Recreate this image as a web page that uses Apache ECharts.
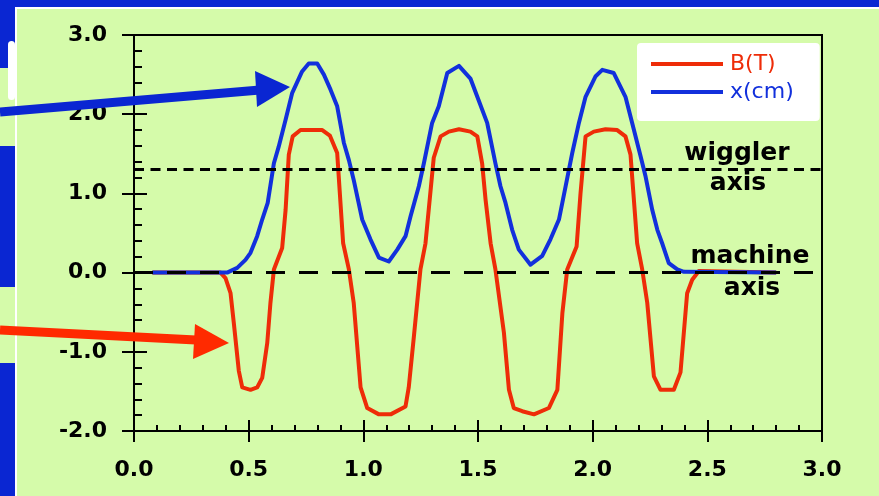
<!DOCTYPE html>
<html lang="en">
  <head>
    <meta charset="UTF-8" />
    <title>Wiggler orbit</title>
    <script src="https://cdn.jsdelivr.net/npm/echarts@6.0.0/dist/echarts.min.js"></script>
    <style>
      body { margin: 0; }
    </style>
  </head>
  <body>
    <div id="main" style="width: 879px; height: 496px"></div>
    <script type="text/javascript">
      // field B(T)
      let bPos = [0.08, 0.377, 0.399, 0.421, 0.435, 0.457, 0.472, 0.508, 0.537, 0.559,
        0.581, 0.595, 0.61, 0.646, 0.661, 0.675, 0.692, 0.726, 0.821, 0.854,
        0.886, 0.912, 0.937, 0.958, 0.988, 1.017, 1.068, 1.119, 1.184, 1.198,
        1.22, 1.249, 1.271, 1.307, 1.337, 1.373, 1.417, 1.467, 1.497, 1.518,
        1.533, 1.555, 1.576, 1.613, 1.635, 1.656, 1.693, 1.744, 1.809, 1.846,
        1.868, 1.889, 1.93, 1.947, 1.969, 2.005, 2.056, 2.107, 2.143, 2.165,
        2.194, 2.216, 2.238, 2.267, 2.296, 2.354, 2.383, 2.412, 2.434, 2.463, 2.8]
      let bField = [0, 0, -0.07, -0.26, -0.63, -1.24, -1.45, -1.48, -1.45, -1.33,
        -0.89, -0.38, 0.04, 0.31, 0.79, 1.49, 1.72, 1.8, 1.8, 1.73,
        1.51, 0.37, 0.04, -0.38, -1.45, -1.71, -1.79, -1.79, -1.69, -1.45,
        -0.82, 0.04, 0.37, 1.45, 1.72, 1.78, 1.81, 1.78, 1.72, 1.38,
        0.92, 0.37, 0.04, -0.76, -1.48, -1.71, -1.75, -1.79, -1.71, -1.48,
        -0.51, 0.04, 0.33, 1.0, 1.72, 1.78, 1.81, 1.8, 1.72, 1.49,
        0.37, 0.04, -0.38, -1.31, -1.48, -1.48, -1.26, -0.26, -0.09, 0.02, 0]

      // orbit x(cm)
      let xPos = [0.08, 0.406, 0.45, 0.486, 0.508, 0.537, 0.559, 0.583, 0.61, 0.631,
        0.661, 0.69, 0.733, 0.762, 0.799, 0.828, 0.857, 0.886, 0.915, 0.937,
        0.958, 0.995, 1.031, 1.068, 1.111, 1.148, 1.184, 1.206, 1.242, 1.264,
        1.3, 1.329, 1.366, 1.417, 1.467, 1.497, 1.54, 1.576, 1.598, 1.62,
        1.649, 1.678, 1.729, 1.78, 1.816, 1.853, 1.882, 1.911, 1.94, 1.969,
        2.013, 2.042, 2.092, 2.143, 2.18, 2.209, 2.231, 2.26, 2.282, 2.303,
        2.332, 2.369, 2.398, 2.8]
      let xOrbit = [0, 0, 0.06, 0.16, 0.25, 0.46, 0.67, 0.88, 1.38, 1.59,
        1.93, 2.27, 2.54, 2.64, 2.64, 2.5, 2.31, 2.1, 1.64, 1.42,
        1.17, 0.67, 0.42, 0.19, 0.14, 0.29, 0.46, 0.71, 1.09, 1.38,
        1.89, 2.1, 2.52, 2.61, 2.45, 2.22, 1.89, 1.38, 1.09, 0.88,
        0.54, 0.29, 0.1, 0.21, 0.42, 0.67, 1.09, 1.51, 1.89, 2.22,
        2.48, 2.56, 2.52, 2.22, 1.8, 1.47, 1.21, 0.79, 0.54, 0.37,
        0.12, 0.04, 0.01, 0]

      let wigglerAxis = 1.3
      let machineAxis = 0

      const RED = "#ee2c08"
      const BLUE = "#1230dc"
      const FRAME_BLUE = "#0a26d2"
      const GREEN = "#d5fbaa"
      const LABEL_FONT = "DejaVu Sans"

      function zip(a, b) {
        return a.map((v, i) => [v, b[i]])
      }

      let fmt = (v) => v.toFixed(1)

      let options = {
        backgroundColor: GREEN,
        animation: false,
        grid: {
          left: 134, right: 57, top: 35, bottom: 65,
          show: true, borderColor: "#000", borderWidth: 2,
          backgroundColor: "transparent",
        },
        legend: {
          left: 637, top: 43,
          orient: "vertical",
          backgroundColor: "#fff",
          borderRadius: 4,
          padding: [10, 26, 18, 14],
          itemGap: 6,
          itemWidth: 72,
          itemHeight: 4,
          icon: "rect",
          textStyle: { fontFamily: LABEL_FONT, fontSize: 22, padding: [0, 0, 0, 2] },
          data: [
            { name: "B(T)", textStyle: { color: RED } },
            { name: "x(cm)", textStyle: { color: BLUE } },
          ],
        },
        xAxis: [
          {
            type: "value", min: 0, max: 3, interval: 0.5,
            axisLine: { onZero: false, lineStyle: { color: "#000", width: 2 } },
            axisTick: { length: 11, lineStyle: { color: "#000", width: 2 } },
            axisLabel: {
              formatter: fmt, margin: 28, color: "#000",
              fontFamily: LABEL_FONT, fontWeight: "bold", fontSize: 22,
            },
            splitLine: { show: false },
          },
          {
            type: "value", min: 0, max: 3, interval: 0.5, position: "bottom",
            axisLine: { show: false, onZero: false },
            axisTick: { inside: true, length: 11, lineStyle: { color: "#000", width: 2 } },
            minorTick: { show: true, splitNumber: 5, length: 6, lineStyle: { color: "#000", width: 2 } },
            axisLabel: { show: false },
            splitLine: { show: false },
          },
        ],
        yAxis: [
          {
            type: "value", min: -2, max: 3, interval: 1,
            axisLine: { show: true, onZero: false, lineStyle: { color: "#000", width: 2 } },
            axisTick: { show: true, length: 12, lineStyle: { color: "#000", width: 2 } },
            axisLabel: {
              formatter: fmt, margin: 27, color: "#000", padding: [4, 0, 0, 0],
              fontFamily: LABEL_FONT, fontWeight: "bold", fontSize: 22,
            },
            splitLine: { show: false },
          },
          {
            type: "value", min: -2, max: 3, interval: 1, position: "left",
            axisLine: { show: false, onZero: false },
            axisTick: { show: true, inside: true, length: 13, lineStyle: { color: "#000", width: 2 } },
            minorTick: { show: true, splitNumber: 5, length: 8, lineStyle: { color: "#000", width: 2 } },
            axisLabel: { show: false },
            splitLine: { show: false },
          },
        ],
        series: [
          {
            name: "B(T)", type: "line", data: zip(bPos, bField),
            showSymbol: false, symbol: "none",
            lineStyle: { color: RED, width: 4, join: "round" }, itemStyle: { color: RED },
            z: 2,
          },
          {
            name: "x(cm)", type: "line", data: zip(xPos, xOrbit),
            showSymbol: false, symbol: "none",
            lineStyle: { color: BLUE, width: 4, join: "round" }, itemStyle: { color: BLUE },
            z: 3,
          },
          {
            name: "axes", type: "line", data: [], z: 4,
            markLine: {
              silent: true, symbol: "none", label: { show: false },
              data: [
                { yAxis: wigglerAxis, lineStyle: { color: "#000", width: 3, type: [10, 6.5] } },
                { yAxis: machineAxis, lineStyle: { color: "#000", width: 3, type: [19, 14] } },
              ],
            },
          },
        ],
        graphic: [
          // slide frame
          { type: "rect", shape: { x: 0, y: 0, width: 879, height: 7 }, style: { fill: FRAME_BLUE } },
          { type: "rect", shape: { x: 0, y: 7, width: 879, height: 2 }, style: { fill: "#fff" } },
          { type: "rect", shape: { x: 0, y: 0, width: 15, height: 68 }, style: { fill: FRAME_BLUE } },
          { type: "rect", shape: { x: 0, y: 146, width: 15, height: 141 }, style: { fill: FRAME_BLUE } },
          { type: "rect", shape: { x: 0, y: 363, width: 15, height: 133 }, style: { fill: FRAME_BLUE } },
          { type: "rect", shape: { x: 15, y: 7, width: 2, height: 489 }, style: { fill: "#fff" } },
          { type: "rect", shape: { x: 8, y: 41, width: 7, height: 59, r: 3.5 }, style: { fill: "#fff" } },
          // pointer arrows
          { type: "line", shape: { x1: 0, y1: 112, x2: 260, y2: 90 }, style: { stroke: FRAME_BLUE, lineWidth: 9 }, z: 10 },
          { type: "polygon", shape: { points: [[255, 71], [290, 87], [257, 107]] }, style: { fill: FRAME_BLUE }, z: 10 },
          { type: "line", shape: { x1: 0, y1: 330, x2: 196, y2: 340 }, style: { stroke: "#ff2a00", lineWidth: 9 }, z: 10 },
          { type: "polygon", shape: { points: [[195, 324], [229, 343], [193, 359]] }, style: { fill: "#ff2a00" }, z: 10 },
          // axis captions
          { type: "text", x: 737, y: 153, style: { text: "wiggler", fill: "#000", font: "bold 25px DejaVu Sans", textAlign: "center", textVerticalAlign: "middle" }, z: 10 },
          { type: "text", x: 738, y: 183, style: { text: "axis", fill: "#000", font: "bold 25px DejaVu Sans", textAlign: "center", textVerticalAlign: "middle" }, z: 10 },
          { type: "text", x: 750, y: 256, style: { text: "machine", fill: "#000", font: "bold 25px DejaVu Sans", textAlign: "center", textVerticalAlign: "middle" }, z: 10 },
          { type: "text", x: 752, y: 288, style: { text: "axis", fill: "#000", font: "bold 25px DejaVu Sans", textAlign: "center", textVerticalAlign: "middle" }, z: 10 },
        ],
      }

      let myChart = echarts.init(document.getElementById("main"))
      myChart.setOption(options)
    </script>
  </body>
</html>
